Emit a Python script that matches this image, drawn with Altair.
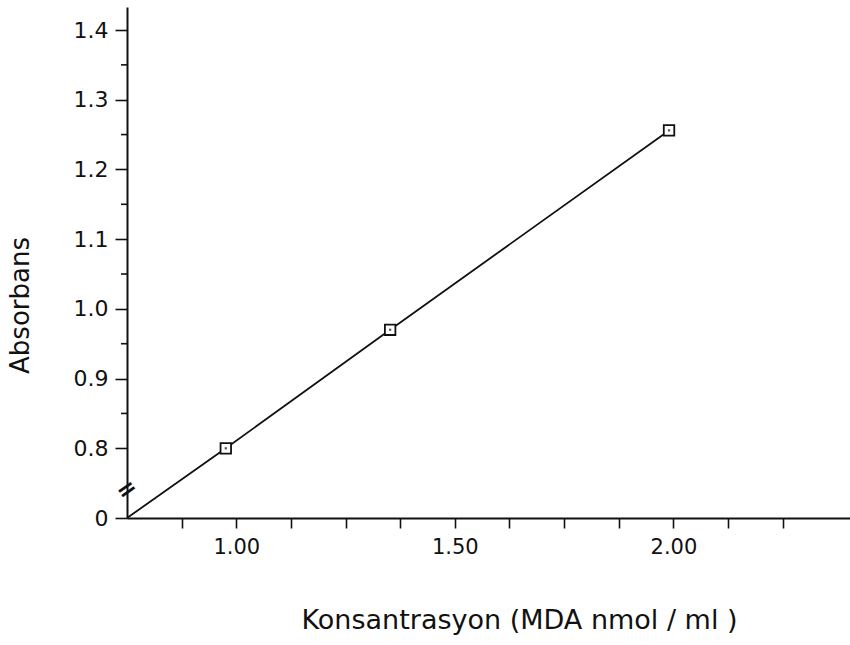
import altair as alt
import pandas as pd

# measured points
conc = [0.976, 1.352, 1.99]
absorb = [0.80, 0.97, 1.256]
# calibration line (starts at broken-axis origin)
line_conc = [0.75, 0.976, 1.352, 1.99]
line_abs = [0.70, 0.80, 0.97, 1.256]

x_ticks = [0.875, 1.0, 1.125, 1.25, 1.375, 1.5, 1.625, 1.75, 1.875, 2.0, 2.125, 2.25]
y_major = [0.7, 0.8, 0.9, 1.0, 1.1, 1.2, 1.3, 1.4]
y_minor = [0.85, 0.95, 1.05, 1.15, 1.25, 1.35]

pts = pd.DataFrame({"c": conc, "a": absorb})
ln = pd.DataFrame({"c": line_conc, "a": line_abs})
brk = pd.DataFrame({"c": [0.75], "a": [0.74], "t": ["="]})
minor = pd.DataFrame({"a": y_minor})

FONT = "DejaVu Sans"
xs = alt.Scale(domain=[0.75, 2.404], nice=False, zero=False)
ys = alt.Scale(domain=[0.7, 1.433], nice=False, zero=False)

MAJ_X = "abs(datum.value*2 - round(datum.value*2)) < 0.001"

xaxis = alt.Axis(
    values=x_ticks,
    labelExpr=MAJ_X + " ? format(datum.value, '.2f') : ''",
    labelOverlap=False,
    grid=False, domainColor="#111", domainWidth=2, tickColor="#111", tickWidth=1.6,
    tickSize=10,
    labelFont=FONT, labelFontSize=21, labelColor="#111", labelPadding=8,
    title="Konsantrasyon  (MDA nmol / ml )", titleFont=FONT, titleFontSize=27,
    titleFontWeight="normal", titleColor="#111", titleX=392, titleY=102,
    titleAnchor="middle", titleAlign="center", titleBaseline="middle",
)
yaxis = alt.Axis(
    values=y_major,
    labelExpr="datum.value < 0.75 ? '0' : format(datum.value, '.1f')",
    labelOverlap=False,
    grid=False, domainColor="#111", domainWidth=2, tickColor="#111", tickWidth=1.6,
    tickSize=12,
    labelFont=FONT, labelFontSize=22, labelColor="#111", labelPadding=7,
    title="Absorbans", titleFont=FONT, titleFontSize=26, titleFontWeight="normal",
    titleColor="#111", titleAngle=270, titleX=-107, titleY=298,
    titleAlign="center", titleBaseline="middle",
)

line = alt.Chart(ln).mark_line(color="#111", strokeWidth=1.8).encode(
    x=alt.X("c:Q", scale=xs, axis=xaxis),
    y=alt.Y("a:Q", scale=ys, axis=yaxis),
)
minor_ticks = alt.Chart(minor).mark_rule(color="#111", strokeWidth=1.6).encode(
    y=alt.Y("a:Q", scale=ys), x=alt.value(-6), x2=alt.value(0))
sq = alt.Chart(pts).mark_point(shape="square", size=110, filled=True, fill="white",
                               stroke="#111", strokeWidth=1.8, opacity=1).encode(
    x=alt.X("c:Q", scale=xs), y=alt.Y("a:Q", scale=ys))
dot = alt.Chart(pts).mark_point(shape="square", size=5, filled=True, color="#111").encode(
    x=alt.X("c:Q", scale=xs), y=alt.Y("a:Q", scale=ys))
breakmark = alt.Chart(brk).mark_text(font=FONT, fontSize=24, fontWeight="bold", angle=325,
                                     color="#111").encode(
    x=alt.X("c:Q", scale=xs), y=alt.Y("a:Q", scale=ys), text="t:N")

chart = alt.layer(line, minor_ticks, sq, dot, breakmark).properties(
    width=723, height=511, autosize="none",
    padding={"left": 127, "top": 7, "right": 0, "bottom": 127},
    background="white",
).configure_view(stroke=None)

chart.save("out.html", embed_options={"renderer": "svg", "actions": False})
